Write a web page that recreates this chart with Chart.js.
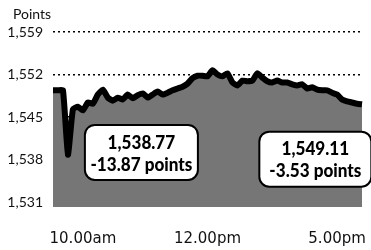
<!DOCTYPE html>
<html>
<head>
<meta charset="utf-8">
<script src="https://cdn.jsdelivr.net/npm/chart.js@4"></script>
<style>
  html, body { margin: 0; padding: 0; background: #fff; }
  #wrap { width: 371px; height: 250px; }
</style>
</head>
<body>
<div id="wrap"><canvas id="index-chart"></canvas></div>
<script>
// index level through the session
const points = [
  1549.4, 1549.4, 1549.4, 1538.8, 1546.3, 1546.7, 1546.1, 1547.4, 1547.2, 1548.7,
  1549.5, 1548.2, 1547.7, 1548.2, 1547.9, 1548.7, 1548.1, 1548.6, 1548.9, 1548.2,
  1548.7, 1549.2, 1548.7, 1549.0, 1549.4, 1549.7, 1550.0, 1550.5, 1551.4, 1551.8,
  1551.8, 1551.7, 1552.7, 1552.0, 1551.7, 1552.2, 1550.7, 1550.2, 1551.0, 1550.9,
  1551.0, 1552.2, 1551.5, 1550.9, 1550.7, 1551.0, 1550.7, 1550.7, 1550.4, 1550.2,
  1550.4, 1549.7, 1549.9, 1549.5, 1549.4, 1549.4, 1549.0, 1548.7, 1547.9, 1547.6,
  1547.4, 1547.2, 1547.1
];
const steps = points.map((_, i) => i);

const timeLabels = ['10.00am', '12.00pm', '5.00pm'];
const timeSteps = [6, 31, 57];

const yTicks = [1531, 1538, 1545, 1552, 1559];

const lowValue = 1538.77;
const lowChange = -13.87;
const lastValue = 1549.11;
const lastChange = -3.53;

const sans = "Lato, 'Open Sans', sans-serif";

function fmt(v) {
  return v.toLocaleString('en-US', { minimumFractionDigits: 2, maximumFractionDigits: 2 });
}

const callouts = [
  { lines: [fmt(lowValue), fmt(lowChange) + ' points'], at: 6.4, top: 1543.7, w: 113, h: 55 },
  { lines: [fmt(lastValue), fmt(lastChange) + ' points'], at: 41.4, top: 1542.6, w: 112, h: 55 }
];

const calloutPlugin = {
  id: 'callouts',
  afterDatasetsDraw(chart) {
    const ctx = chart.ctx;
    const xs = chart.scales.x, ys = chart.scales.y;
    ctx.save();
    callouts.forEach(c => {
      const left = xs.getPixelForValue(c.at);
      const top = ys.getPixelForValue(c.top);
      ctx.beginPath();
      ctx.roundRect(left, top, c.w, c.h, 10);
      ctx.fillStyle = '#fff';
      ctx.fill();
      ctx.lineWidth = 2;
      ctx.strokeStyle = '#000';
      ctx.stroke();
      // condensed look, like the printed original
      ctx.save();
      ctx.translate(left + c.w / 2, top + c.h / 2);
      ctx.scale(0.9, 1);
      ctx.fillStyle = '#000';
      ctx.font = '900 19px ' + sans;
      ctx.textAlign = 'center';
      ctx.textBaseline = 'middle';
      ctx.fillText(c.lines[0], 0, -10);
      ctx.fillText(c.lines[1], 0, 12);
      ctx.restore();
    });
    ctx.fillStyle = '#111';
    ctx.font = '14px ' + sans;
    ctx.textAlign = 'left';
    ctx.textBaseline = 'middle';
    ctx.fillText('Points', 13, chart.chartArea.top - 18);
    ctx.restore();
  }
};

new Chart(document.getElementById('index-chart'), {
  type: 'line',
  data: {
    labels: steps,
    datasets: [{
      data: points,
      borderColor: '#000',
      borderWidth: 6,
      borderJoinStyle: 'round',
      backgroundColor: '#767676',
      fill: 'start',
      tension: 0.15,
      pointRadius: 0
    }]
  },
  options: {
    responsive: true,
    maintainAspectRatio: false,
    animation: false,
    layout: { padding: { top: 32, right: 9, bottom: 0, left: 0 } },
    plugins: {
      legend: { display: false },
      tooltip: { enabled: false }
    },
    scales: {
      x: {
        afterFit: (s) => { s.height = 43; s.paddingLeft = 0; s.paddingRight = 0; },
        grid: { display: false, drawTicks: false },
        border: { display: false },
        ticks: {
          autoSkip: false,
          maxRotation: 0,
          padding: 23,
          color: '#111',
          font: { family: "'DejaVu Sans', sans-serif", size: 15 },
          callback: (v) => {
            const k = timeSteps.indexOf(v);
            return k >= 0 ? timeLabels[k] : null;
          }
        }
      },
      y: {
        min: 1530.2,
        max: 1559,
        afterBuildTicks: (s) => { s.ticks = yTicks.map(v => ({ value: v })); },
        afterFit: (s) => { s.width = 53; s.paddingTop = 0; s.paddingBottom = 0; },
        grid: {
          drawTicks: false,
          color: '#000',
          lineWidth: 1.5
        },
        border: { display: false, dash: [2, 3] },
        ticks: {
          padding: 10,
          color: '#111',
          font: { family: sans, size: 14 },
          callback: (v) => v.toLocaleString('en-US')
        }
      }
    }
  },
  plugins: [calloutPlugin]
});
</script>
</body>
</html>
